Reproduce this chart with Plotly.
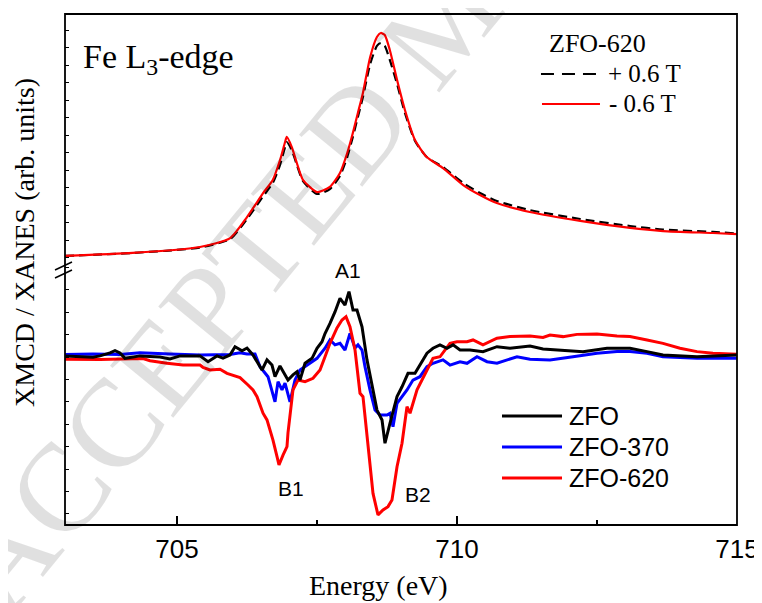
import plotly.graph_objects as go

# ---------------- data ----------------
# XANES (upper panel), ZFO-620 at +/- 0.6 T
xanes_energy = [703.00, 704.21, 705.41, 705.95, 706.25, 706.54, 706.71, 706.84, 706.93, 706.96,
                707.05, 707.14, 707.25, 707.50, 707.73, 707.91, 708.04, 708.14, 708.23, 708.32,
                708.45, 708.57, 708.64, 708.71, 708.80, 708.93, 709.07, 709.25, 709.46, 709.75,
                710.11, 710.41, 710.71, 711.30, 712.20, 713.09, 713.68, 714.57, 715.00]
xanes_plus = [0.09, 0.26, 0.57, 1.06, 2.20, 3.51, 4.26, 5.29, 6.31, 6.60,
              6.14, 5.29, 4.37, 3.63, 3.91, 4.66, 5.74, 6.89, 8.03, 9.17,
              11.06, 12.09, 12.26, 12.09, 11.29, 9.91, 8.26, 6.66, 5.74, 5.17,
              4.26, 3.69, 3.23, 2.71, 2.20, 1.80, 1.60, 1.46, 1.37]
xanes_minus = [0.09, 0.26, 0.60, 1.11, 2.31, 3.69, 4.43, 5.57, 6.60, 6.89,
               6.31, 5.40, 4.43, 3.74, 4.03, 4.83, 5.97, 7.11, 8.26, 9.40,
               11.46, 12.60, 12.83, 12.71, 11.86, 10.14, 8.43, 6.71, 5.74, 5.11,
               4.14, 3.57, 3.11, 2.60, 2.09, 1.69, 1.51, 1.40, 1.34]

# XMCD (lower panel)
zfo_energy = [703.000, 703.500, 703.625, 703.804, 703.893, 703.982, 704.071, 704.339, 704.696, 704.875,
              705.054, 705.411, 705.554, 705.714, 705.821, 705.946, 706.036, 706.161, 706.250, 706.357,
              706.518, 706.607, 706.696, 706.750, 706.839, 706.929, 706.982, 707.071, 707.143, 707.196,
              707.286, 707.411, 707.500, 707.589, 707.643, 707.732, 707.821, 707.911, 708.000, 708.071,
              708.143, 708.214, 708.304, 708.393, 708.482, 708.571, 708.661, 708.714, 708.804, 708.929,
              709.018, 709.125, 709.250, 709.339, 709.464, 709.571, 709.696, 709.821, 709.929, 710.054,
              710.232, 710.464, 710.714, 710.946, 711.304, 711.536, 711.893, 712.250, 712.679, 713.089,
              713.393, 713.679, 714.286, 715.000]
zfo_xmcd = [0.05, -0.01, 0.05, 0.18, 0.28, 0.18, -0.06, 0.05, 0.00, -0.09,
            0.05, 0.05, -0.21, 0.05, -0.05, 0.09, 0.46, 0.28, 0.40, 0.09,
            -0.58, -0.13, -0.36, -0.88, -0.40, -0.80, -1.03, -0.80, -0.66, -1.03,
            -0.28, -0.06, 0.39, 0.68, 1.05, 1.50, 2.01, 2.62, 2.32, 2.92,
            2.10, 2.10, 1.35, -0.13, -1.17, -2.37, -2.81, -3.85, -2.95, -1.77,
            -1.33, -0.73, -0.73, -0.36, 0.17, 0.39, 0.54, 0.39, 0.54, 0.31,
            0.31, 0.24, 0.46, 0.39, 0.49, 0.36, 0.31, 0.24, 0.39, 0.39,
            0.24, 0.09, 0.01, 0.09]

zfo370_energy = [703.000, 703.500, 703.982, 704.339, 704.875, 705.411, 705.946, 706.125, 706.250, 706.393,
                 706.482, 706.625, 706.750, 706.804, 706.875, 706.929, 707.018, 707.107, 707.196, 707.321,
                 707.500, 707.643, 707.732, 707.821, 707.911, 708.000, 708.089, 708.179, 708.232, 708.304,
                 708.357, 708.446, 708.536, 708.625, 708.750, 708.804, 708.857, 708.929, 709.018, 709.107,
                 709.214, 709.339, 709.464, 709.571, 709.750, 709.875, 710.054, 710.179, 710.357, 710.536,
                 710.714, 711.071, 711.304, 711.661, 712.071, 712.500, 712.857, 713.089, 713.393, 713.679,
                 714.286, 715.000]
zfo370_xmcd = [0.11, 0.13, 0.11, 0.19, 0.13, 0.09, 0.11, 0.19, 0.13, 0.13,
               -0.43, -0.88, -2.00, -1.10, -1.47, -1.17, -2.00, -1.03, -0.58, -0.36,
               -0.06, 0.39, 0.76, 0.54, 0.61, 0.31, 1.05, 0.40, 0.54, 0.31,
               -0.43, -1.47, -2.37, -2.59, -2.59, -2.51, -3.11, -2.07, -1.77, -1.47,
               -1.03, -0.88, -0.43, -0.28, -0.13, -0.36, -0.21, -0.28, 0.01, -0.21,
               -0.28, 0.01, -0.10, -0.13, 0.01, 0.17, 0.24, 0.24, 0.17, 0.01,
               -0.06, -0.06]

zfo620_energy = [703.000, 703.625, 704.393, 704.518, 704.821, 705.107, 705.411, 705.464, 705.589, 705.768,
                 705.893, 706.125, 706.268, 706.357, 706.429, 706.536, 706.607, 706.661, 706.714, 706.786,
                 706.821, 706.893, 706.964, 706.982, 707.071, 707.161, 707.286, 707.429, 707.554, 707.643,
                 707.732, 707.857, 707.946, 708.018, 708.089, 708.179, 708.268, 708.321, 708.411, 708.500,
                 708.589, 708.679, 708.768, 708.839, 708.929, 709.018, 709.107, 709.161, 709.286, 709.429,
                 709.571, 709.696, 709.875, 710.000, 710.179, 710.286, 710.464, 710.714, 710.946, 711.304,
                 711.536, 711.661, 711.893, 712.143, 712.500, 712.857, 713.089, 713.393, 713.679, 713.982,
                 714.286, 714.571, 715.000]
zfo620_xmcd = [-0.10, -0.11, -0.07, -0.17, -0.28, -0.36, -0.36, -0.46, -0.58, -0.55,
               -0.73, -0.92, -1.25, -1.47, -1.77, -2.51, -2.81, -3.26, -3.71, -4.45,
               -4.82, -4.38, -4.00, -3.39, -1.47, -1.03, -1.10, -0.95, -0.58, 0.01,
               0.61, 1.30, 1.65, 1.80, 1.35, 0.31, -1.62, -1.77, -4.00, -6.09,
               -7.05, -6.83, -6.68, -6.38, -4.90, -3.85, -2.22, -2.51, -1.47, -0.73,
               -0.06, 0.01, 0.61, 0.68, 0.68, 0.76, 0.54, 0.84, 0.91, 0.94,
               0.87, 0.98, 0.91, 1.01, 1.03, 0.94, 0.91, 0.76, 0.61, 0.39,
               0.24, 0.17, 0.12]

x_tick_vals = [705, 710, 715]
x_minor_vals = [707.5, 712.5]
peak_labels = ["A1", "B1", "B2"]
peak_pos = [(708.05, 3.84), (707.04, -5.85), (709.30, -6.12)]

# ---------------- figure ----------------
SERIF = "Liberation Serif, Times New Roman, serif"
SANS = "Liberation Sans, Arial, sans-serif"
split = 0.5088

fig = go.Figure()

# XANES
fig.add_trace(go.Scatter(x=xanes_energy, y=xanes_plus, mode="lines", xaxis="x", yaxis="y2",
                         line=dict(color="black", width=2.2, dash="9px,5px", shape="spline", smoothing=0.6),
                         showlegend=False))
fig.add_trace(go.Scatter(x=xanes_energy, y=xanes_minus, mode="lines", xaxis="x", yaxis="y2",
                         line=dict(color="#ff0000", width=2.2, shape="spline", smoothing=0.6),
                         showlegend=False))
# XMCD
fig.add_trace(go.Scatter(x=zfo370_energy, y=zfo370_xmcd, mode="lines", xaxis="x", yaxis="y",
                         line=dict(color="#0000ff", width=3), showlegend=False))
fig.add_trace(go.Scatter(x=zfo620_energy, y=zfo620_xmcd, mode="lines", xaxis="x", yaxis="y",
                         line=dict(color="#ff0000", width=3), showlegend=False))
fig.add_trace(go.Scatter(x=zfo_energy, y=zfo_xmcd, mode="lines", xaxis="x", yaxis="y",
                         line=dict(color="black", width=3), showlegend=False))

shapes = []
# frame
shapes.append(dict(type="rect", xref="paper", yref="paper", x0=0, y0=0, x1=1, y1=1,
                   line=dict(color="black", width=1.8)))
# axis break marks
for dy in (0.0, 0.0157):
    shapes.append(dict(type="line", xref="paper", yref="paper",
                       x0=-0.0149, y0=0.4834 + dy, x1=0.0104, y1=0.4990 + dy,
                       line=dict(color="black", width=1.5)))

annotations = []
# faint watermark of the source manuscript
annotations.append(dict(text="ACCEPTED MANUSCRIPT", xref="paper", yref="paper", x=0.566, y=0.99,
                        xanchor="center", yanchor="middle", textangle=-50.7, showarrow=False,
                        font=dict(family=SERIF, size=125, color="rgba(0,0,0,0.12)")))
# upper legend
annotations.append(dict(text="ZFO-620", xref="paper", yref="paper", x=0.7917, y=0.9413,
                        xanchor="center", yanchor="middle", showarrow=False,
                        font=dict(family=SERIF, size=26, color="black")))
shapes.append(dict(type="line", xref="paper", yref="paper", x0=0.7083, x1=0.7917, y0=0.8826, y1=0.8826,
                   line=dict(color="black", width=2.2, dash="13px,8px")))
annotations.append(dict(text="+ 0.6 T", xref="paper", yref="paper", x=0.8050, y=0.8826,
                        xanchor="left", yanchor="middle", showarrow=False,
                        font=dict(family=SERIF, size=25, color="black")))
shapes.append(dict(type="line", xref="paper", yref="paper", x0=0.7098, x1=0.7961, y0=0.8239, y1=0.8239,
                   line=dict(color="#ff0000", width=2.2)))
annotations.append(dict(text="- 0.6 T", xref="paper", yref="paper", x=0.8065, y=0.8239,
                        xanchor="left", yanchor="middle", showarrow=False,
                        font=dict(family=SERIF, size=25, color="black")))

# lower legend
low_leg = [("ZFO", "black", 0.2133), ("ZFO-370", "#0000ff", 0.1526), ("ZFO-620", "#ff0000", 0.0920)]
for name, col, yy in low_leg:
    shapes.append(dict(type="line", xref="paper", yref="paper", x0=0.6503, x1=0.7396, y0=yy, y1=yy,
                       line=dict(color=col, width=3.2)))
    annotations.append(dict(text=name, xref="paper", yref="paper", x=0.7470, y=yy,
                            xanchor="left", yanchor="middle", showarrow=False,
                            font=dict(family=SANS, size=25, color="black")))

# panel label
annotations.append(dict(text="Fe L<sub>3</sub>-edge", xref="paper", yref="paper", x=0.0235, y=0.912,
                        xanchor="left", yanchor="middle", showarrow=False,
                        font=dict(family=SERIF, size=34, color="black")))
# peak labels
for lab, (px, py) in zip(peak_labels, peak_pos):
    annotations.append(dict(text=lab, xref="x", yref="y", x=px, y=py, xanchor="center", yanchor="middle",
                            showarrow=False, font=dict(family=SANS, size=21, color="black")))
# axis titles
annotations.append(dict(text="XMCD / XANES (arb. units)", xref="paper", yref="paper", x=-0.0595, y=0.552,
                        xanchor="center", yanchor="middle", textangle=-90, showarrow=False,
                        font=dict(family=SERIF, size=28, color="black")))
annotations.append(dict(text="Energy (eV)", xref="paper", yref="paper", x=0.467, y=-0.119,
                        xanchor="center", yanchor="middle", showarrow=False,
                        font=dict(family=SERIF, size=28, color="black")))

# the page body adds an 8 px offset, so the figure is drawn 8 px smaller on each axis
fig.update_layout(
    width=754, height=595,
    margin=dict(l=57, r=25, t=6, b=78, autoexpand=False),
    paper_bgcolor="white", plot_bgcolor="white",
    shapes=shapes, annotations=annotations,
    xaxis=dict(range=[703, 715], tickvals=x_tick_vals, ticks="inside", ticklen=9, tickwidth=1.5,
               tickcolor="black", showgrid=False, zeroline=False, showline=False, anchor="y",
               automargin=False, ticklabelstandoff=6,
               tickfont=dict(family=SANS, size=26, color="black"),
               minor=dict(tickvals=x_minor_vals, ticks="inside", ticklen=5, tickwidth=1.5, tickcolor="black")),
    yaxis=dict(domain=[0, split], range=[-7.5, 4.107], tickvals=list(range(-7, 5)), ticks="inside",
               ticklen=4, tickwidth=1.2, tickcolor="black", showticklabels=False, showgrid=False,
               zeroline=False, showline=False, anchor="x", automargin=False),
    yaxis2=dict(domain=[split, 1], range=[-0.4286, 13.914], tickvals=list(range(0, 14)), ticks="inside",
                ticklen=4, tickwidth=1.2, tickcolor="black", showticklabels=False, showgrid=False,
                zeroline=False, showline=False, anchor="x", automargin=False),
    showlegend=False,
)

fig.write_html("out.html")
